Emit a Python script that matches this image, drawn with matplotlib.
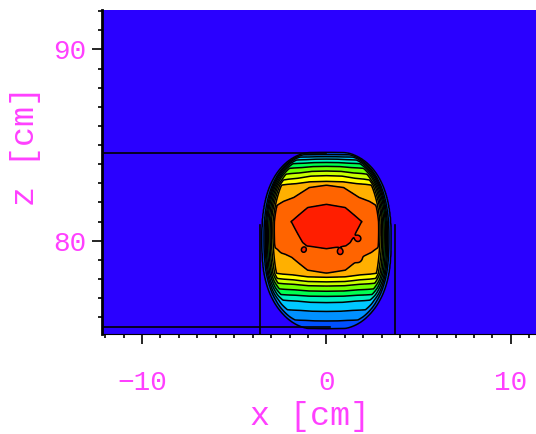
import numpy as np
import matplotlib
matplotlib.use('Agg')
import matplotlib.pyplot as plt
from matplotlib.colors import ListedColormap, BoundaryNorm

# profile across x (relative to local half width) and profile along z
gx_pos = [0.0, 0.30, 0.54, 0.70, 0.80, 0.86, 0.92, 0.96, 1.00, 1.10]
gx_val = [1.00, 0.99, 0.95, 0.935, 0.92, 0.72, 0.42, 0.15, 0.03, 0.00]
gz_pos = [74.8, 75.4, 75.8, 76.3, 76.9, 77.3, 77.9, 78.3, 79.5, 79.9, 81.0,
          81.9, 82.9, 83.1, 83.4, 83.7, 84.0, 84.3, 84.6, 85.2]
gz_val = [0.00, 0.03, 0.12, 0.22, 0.35, 0.50, 0.72, 0.85, 0.915, 0.94, 0.97,
          0.92, 0.85, 0.78, 0.70, 0.60, 0.47, 0.30, 0.03, 0.00]
half_width = 3.5
z_center = 80.0
z_half = 4.75

# small hot spots inside the orange zone: x, z, height
spot_x = [-2.35, -1.25, -1.15, 0.75, 1.73, 1.73]
spot_z = [79.6, 79.5, 80.4, 79.4, 80.1, 79.05]
spot_h = [0.05, 0.05, 0.04, 0.05, 0.05, 0.05]

levels = [0, 0.03, 0.12, 0.22, 0.32, 0.42, 0.52, 0.62, 0.70, 0.78, 0.85, 0.92, 1.1]
band_colors = ['#2a00ff', '#0050ff', '#0090ff', '#00c8ff', '#00f0c0', '#00ff50',
               '#70ff00', '#c8ff00', '#ffff00', '#ffb000', '#ff6400', '#ff1e00']

# phantom outline
h_lines = [(84.6, -12.5, 0.0), (75.5, -12.5, 0.2)]
v_lines = [(-3.63, 74.0, 80.8), (3.69, 74.0, 80.8)]

magenta = '#ff40ff'
font = 'Liberation Mono'

x = np.linspace(-12.5, 12, 800)
z = np.linspace(74.5, 92.5, 700)
X, Z = np.meshgrid(x, z)
dz = np.clip(np.abs(Z - z_center) / z_half, 0, 1)
w = half_width * (1 - dz ** 2.5) ** (1 / 2.5) + 1e-6
F = np.interp(np.abs(X) / w, gx_pos, gx_val) * np.interp(Z, gz_pos, gz_val)
for sx, sz, sh in zip(spot_x, spot_z, spot_h):
    F += sh * np.exp(-((X - sx) ** 2 + (Z - sz) ** 2) / (2 * 0.1 ** 2))

fig = plt.figure(figsize=(5.36, 4.34), dpi=100)
ax = fig.add_axes([102 / 536, 1 - 334 / 434, 1 - 102 / 536, (334 - 10) / 434])

cmap = ListedColormap(band_colors)
norm = BoundaryNorm(levels, cmap.N)
ax.contourf(X, Z, F, levels=levels, cmap=cmap, norm=norm, antialiased=False)
ax.contour(X, Z, F, levels=levels[1:-1], colors='black', linewidths=1.1)

for zz, x0, x1 in h_lines:
    ax.plot([x0, x1], [zz, zz], color='black', lw=1.2)
for xx, z0, z1 in v_lines:
    ax.plot([xx, xx], [z0, z1], color='black', lw=1.2)

ax.set_xlim(-12.17, 11.36)
ax.set_ylim(75.12, 92.06)

ax.set_xticks([-10, 0, 10])
ax.set_xticks(np.arange(-12, 12, 1), minor=True)
ax.set_yticks([80, 90])
ax.set_yticks(np.arange(76, 93, 1), minor=True)
ax.tick_params(which='major', length=7, width=1.2, color='black')
ax.tick_params(which='minor', length=3, width=1.2, color='black')
ax.tick_params(axis='x', which='major', pad=19)
ax.tick_params(axis='y', which='major', pad=4)

for lab in ax.get_xticklabels() + ax.get_yticklabels():
    lab.set_family(font)
    lab.set_fontsize(20)
    lab.set_color(magenta)

for side in ['top', 'right']:
    ax.spines[side].set_visible(False)
ax.spines['left'].set_linewidth(2)
ax.spines['bottom'].set_linewidth(0.8)

ax.set_xlabel('x [cm]', family=font, fontsize=24, color=magenta, va='center')
ax.set_ylabel('z [cm]', family=font, fontsize=24, color=magenta)
ax.xaxis.set_label_coords(0.48, -0.256)
ax.yaxis.set_label_coords(-0.14, 0.58)

fig.savefig('out.png', dpi=100)
